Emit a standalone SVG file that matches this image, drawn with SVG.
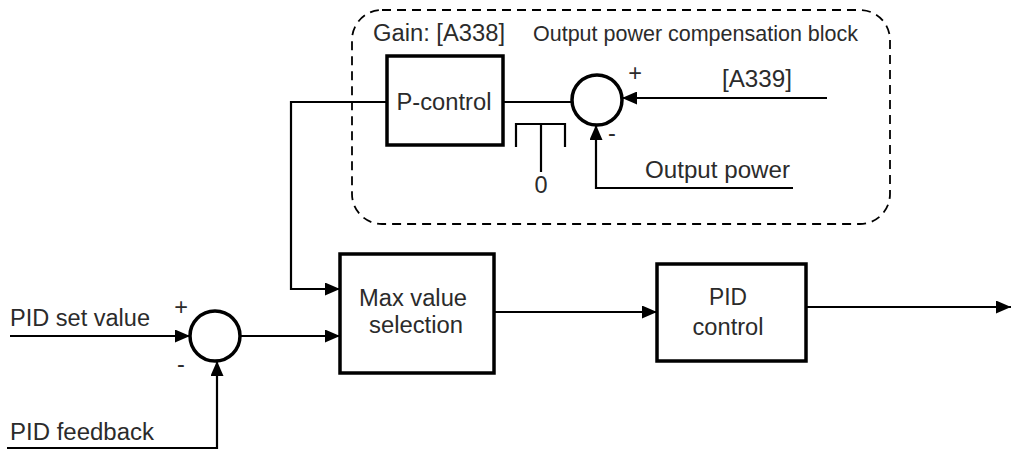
<svg xmlns="http://www.w3.org/2000/svg" width="1011" height="450" viewBox="0 0 1011 450">
<style>
  text { font-family: "Liberation Sans", Arial, sans-serif; font-size: 23.5px; fill: #2b2b2b; }
  .box { fill: #fff; stroke: #000; stroke-width: 3.5; }
  .sum { fill: #fff; stroke: #000; stroke-width: 3.5; }
  .ln { fill: none; stroke: #000; stroke-width: 2.2; }
  .arr { fill: none; stroke: #000; stroke-width: 2.2; marker-end: url(#ah); }
  .dash { fill: none; stroke: #000; stroke-width: 1.8; stroke-dasharray: 9 6; }
  .mid { text-anchor: middle; }
</style>
<defs>
  <marker id="ah" viewBox="0 0 15 13" refX="15" refY="6.5" markerWidth="15" markerHeight="13" markerUnits="userSpaceOnUse" orient="auto">
    <path d="M0,0 L15,6.5 L0,13 Z" fill="#000"/>
  </marker>
</defs>
<rect width="1011" height="450" fill="#fff"/>

<g id="compensation-block">
  <rect class="dash" x="352" y="10" width="538" height="214" rx="30" ry="30"/>
  <text x="373" y="41" textLength="132" lengthAdjust="spacingAndGlyphs">Gain: [A338]</text>
  <text x="533" y="41" style="font-size:21.5px" textLength="325" lengthAdjust="spacingAndGlyphs">Output power compensation block</text>
</g>

<g id="connectors">
  <polyline class="arr" points="503,102 291,102 291,289 340,289"/>
  <line class="ln" x1="503" y1="102" x2="572" y2="102"/>
  <line class="arr" x1="827" y1="98" x2="622" y2="98"/>
  <polyline class="arr" points="793,188 596,188 596,125"/>
  <polyline class="ln" points="516,147 516,124 565,124 565,147"/>
  <line class="ln" x1="541" y1="124" x2="541" y2="172"/>
  <line class="arr" x1="10" y1="336" x2="190" y2="336"/>
  <polyline class="arr" points="7,448 217,448 217,361"/>
  <line class="arr" x1="240" y1="336" x2="340" y2="336"/>
  <line class="arr" x1="494" y1="312" x2="657" y2="312"/>
  <line class="arr" x1="806" y1="307" x2="1011" y2="307"/>
</g>

<g id="p-control">
  <rect class="box" x="387" y="56" width="116" height="89"/>
  <text class="mid" x="444" y="110" textLength="95" lengthAdjust="spacingAndGlyphs">P-control</text>
</g>

<g id="sum-compensation">
  <circle class="sum" cx="597" cy="100" r="25"/>
  <text class="mid" x="635" y="81">+</text>
  <text class="mid" x="612" y="141">-</text>
</g>

<g id="switch-zero">
  <text class="mid" x="541" y="193">0</text>
</g>

<g id="a339">
  <text x="722" y="87" textLength="70" lengthAdjust="spacingAndGlyphs">[A339]</text>
</g>

<g id="output-power">
  <text x="645" y="178" textLength="145" lengthAdjust="spacingAndGlyphs">Output power</text>
</g>

<g id="pid-set-value">
  <text x="10" y="326" textLength="140" lengthAdjust="spacingAndGlyphs">PID set value</text>
</g>

<g id="pid-feedback">
  <text x="10" y="440" textLength="144" lengthAdjust="spacingAndGlyphs">PID feedback</text>
</g>

<g id="sum-pid">
  <circle class="sum" cx="215" cy="336" r="25"/>
  <text class="mid" x="181" y="315">+</text>
  <text class="mid" x="181" y="372">-</text>
</g>

<g id="max-value-selection">
  <rect class="box" x="340" y="254" width="154" height="119"/>
  <text class="mid" x="413" y="306" textLength="108" lengthAdjust="spacingAndGlyphs">Max value</text>
  <text class="mid" x="416" y="333" textLength="94" lengthAdjust="spacingAndGlyphs">selection</text>
</g>

<g id="pid-control">
  <rect class="box" x="657" y="264" width="149" height="97"/>
  <text class="mid" x="728" y="305" textLength="38" lengthAdjust="spacingAndGlyphs">PID</text>
  <text class="mid" x="728" y="335" textLength="71" lengthAdjust="spacingAndGlyphs">control</text>
</g>
</svg>
